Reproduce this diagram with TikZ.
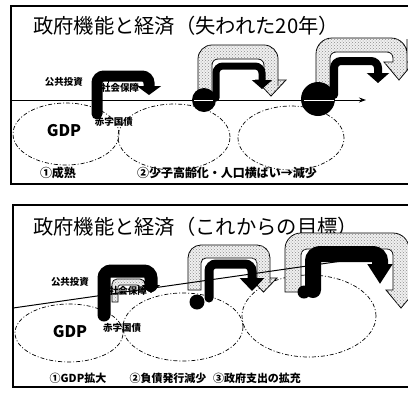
\documentclass[tikz,border=0pt]{standalone}
\usepackage{fontspec}
\setmainfont{Noto Sans CJK JP}
\usetikzlibrary{arrows.meta,patterns}
\begin{document}
\begin{tikzpicture}[x=1pt,y=-1pt]
\tikzstyle{every node}+=[inner sep=0pt]
\tikzstyle{frame}=[black,line width=1.3pt]
\tikzstyle{gdp}=[black,line width=0.7pt,dash pattern=on 4pt off 2pt on 1pt off 2pt]
\tikzstyle{axis}=[black,line width=1pt,-{Stealth[length=7pt,width=5pt]}]
\tikzstyle{grayhook}=[draw=black,line width=0.8pt,fill=gray!12,postaction={pattern=crosshatch dots,pattern color=black!45}]
\tikzstyle{blackhook}=[black,rounded corners=7pt,line cap=round]
\tikzstyle{dot}=[circle,fill=black,draw=none]
\tikzstyle{title}=[anchor=west,font=\fontsize{20.3}{21}\selectfont]
\tikzstyle{small}=[font=\bfseries\fontsize{9.5}{10}\selectfont]
\tikzstyle{phase}=[font=\bfseries\fontsize{12}{13}\selectfont]
\tikzstyle{phaseb}=[font=\bfseries\fontsize{11}{12}\selectfont]
\tikzstyle{gdplabel}=[font=\bfseries\fontsize{16}{17}\selectfont]
\clip (0,0) rectangle (408,392);
\fill [white] (0,0) rectangle (408,392);
\draw [frame] (11,6) rectangle (420,184);
\draw (33,26) node [title] (titleA) {政府機能と経済（失われた20年）};
\draw [gdp] (66,134) ellipse [x radius=53pt,y radius=31pt];
\draw [gdp] (174,137) ellipse [x radius=56pt,y radius=33pt];
\draw [gdp] (291,138) ellipse [x radius=53pt,y radius=32pt];
\coordinate (axisA1) at (11,100);
\coordinate (axisA2) at (366,100);
\draw [axis] (axisA1) -- (axisA2);
\draw [grayhook] (198,100) -- (198,80) [rounded corners=14pt] -- (198,45) -- (278,45) -- (278,72) [sharp corners] -- (278,80) -- (286,80) -- (271,96) -- (256,80) -- (264,80) -- (264,72) [rounded corners=6pt] -- (264,59) -- (212,59) -- (212,75) [sharp corners] -- (212,100) -- cycle;
\draw [grayhook] (316,100) -- (316,80) [rounded corners=16pt] -- (316,38) -- (407,38) -- (407,55) [sharp corners] -- (407,62) -- (414,62) -- (399,80) -- (384,62) -- (393,62) -- (393,58) [rounded corners=6pt] -- (393,52) -- (330,52) -- (330,70) [sharp corners] -- (330,100) -- cycle;
\draw (204,100) node [dot,minimum size=24pt] (dotA2) {};
\draw (318,99) node [dot,minimum size=34pt] (dotA3) {};
\draw [white,line width=0.8pt] (194,100) -- (213,100);
\draw [white,line width=0.8pt] (304,100) -- (334,100);
\draw [blackhook,line width=11pt,-{Triangle[length=9pt,width=24pt]}] (97,114) -- (97,76) -- (149,76) -- (149,95);
\draw [black,line width=0.6pt] (108,83) -- (108,79) -- (132,79);
\draw [blackhook,line width=7pt,-{Triangle[length=9pt,width=20pt]}] (216,98) -- (216,66) -- (262,66) -- (262,89);
\draw [blackhook,line width=8pt,-{Triangle[length=10pt,width=22pt]}] (334,95) -- (334,61) -- (378,61) -- (378,83);
\draw (64,82) node [small] (pubInvA) {公共投資};
\draw (120,88) node [small] (socSecA) {社会保障};
\draw (114,122) node [small] (deficitA) {赤字国債};
\draw (64,131) node [gdplabel] (gdpA) {GDP};
\draw (58,173) node [phase] (phaseA1) {①成熟};
\draw (227,173) node [phase] (phaseA2) {②少子高齢化・人口横ばい→減少};
\draw [frame] (13,205) rectangle (420,387);
\draw (33,227) node [title] (titleB) {政府機能と経済（これからの目標）};
\draw [gdp] (69,333) ellipse [x radius=54pt,y radius=29pt];
\draw [gdp] (183,327) ellipse [x radius=60pt,y radius=34pt];
\draw [gdp] (309,316) ellipse [x radius=67pt,y radius=41pt];
\draw [grayhook] (188,290) -- (188,270) [rounded corners=13pt] -- (188,245) -- (270,245) -- (270,270) [sharp corners] -- (270,278) -- (277,278) -- (263.5,292) -- (250,278) -- (257,278) -- (257,270) [rounded corners=5pt] -- (257,258) -- (201,258) -- (201,275) [sharp corners] -- (201,290) -- cycle;
\draw [grayhook] (285,292) -- (285,270) [rounded corners=16pt] -- (285,233) -- (409,233) -- (409,280) [sharp corners] -- (409,290) -- (416,290) -- (401,308) -- (386,290) -- (393,290) -- (393,280) [rounded corners=6pt] -- (393,249) -- (301,249) -- (301,270) [sharp corners] -- (301,292) -- cycle;
\draw [grayhook] (112,302) -- (112,290) [rounded corners=5pt] -- (112,279) -- (145,279) -- (145,286) [sharp corners] -- (145,292) -- (139,292) -- (139,288) [rounded corners=2pt] -- (139,285) -- (118,285) -- (118,292) [sharp corners] -- (118,302) -- cycle;
\coordinate (axisB1) at (13,308);
\coordinate (axisB2) at (363,258);
\draw [axis] (axisB1) -- (axisB2);
\draw [blackhook,line width=13pt,-{Triangle[length=8pt,width=18pt]}] (104,315) -- (104,271) -- (151,271) -- (151,293);
\draw [blackhook,line width=9pt,-{Triangle[length=13pt,width=24pt]}] (209,298) -- (209,264) -- (252,264) -- (252,291);
\draw [blackhook,line width=16pt,-{Triangle[length=20pt,width=24pt]}] (313,290) -- (313,254) -- (380,254) -- (380,284);
\draw (197,302) node [dot,minimum size=15pt] (dotB2) {};
\draw (304,292) node [dot,minimum size=13pt] (dotB3) {};
\draw (70,282) node [small] (pubInvB) {公共投資};
\draw (128,291) node [small] (socSecB) {社会保障};
\draw (122,328) node [small] (deficitB) {赤字国債};
\draw (70,332) node [gdplabel] (gdpB) {GDP};
\draw (78,378) node [phaseb] (phaseB1) {①GDP拡大};
\draw (168,378) node [phaseb] (phaseB2) {②負債発行減少};
\draw (257,378) node [phaseb] (phaseB3) {③政府支出の拡充};
\end{tikzpicture}
\end{document}
